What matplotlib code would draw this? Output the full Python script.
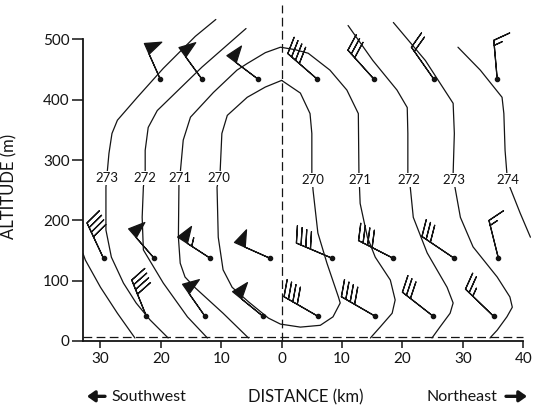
import matplotlib
matplotlib.use('Agg')
import matplotlib.pyplot as plt
import numpy as np

plt.rcParams['font.family'] = ['Lato', 'DejaVu Sans']

# isotherms (K) -- distance in km (southwest negative), altitude in m
iso274_sw = [(-32.9, 145), (-32.5, 134), (-30.0, 89), (-27.2, 46), (-24.3, 5)]
iso273_sw = [(-10.9, 533), (-14.3, 505), (-19.6, 452), (-23.9, 404), (-27.2, 366),
             (-28.1, 344), (-28.6, 311), (-28.9, 278), (-29.1, 255), (-29.1, 184),
             (-28.2, 139), (-26.2, 96), (-24.1, 63), (-21.8, 35), (-18.8, 5)]
iso272_sw = [(-5.9, 518), (-13.2, 454), (-20.6, 382), (-22.1, 354), (-22.6, 316),
             (-22.6, 278), (-22.9, 255), (-23.1, 205), (-22.9, 151), (-19.6, 96),
             (-15.6, 40), (-12.3, 5)]
iso271 = [(-5.5, 5), (-9.7, 46), (-14.3, 88), (-16.0, 106), (-16.8, 129), (-17.1, 172),
          (-17.0, 267), (-16.8, 278), (-16.3, 333), (-15.1, 371), (-11.3, 412),
          (-7.4, 449), (-5.7, 460), (-2.7, 478), (-0.2, 487), (2.2, 483), (4.4, 477),
          (8.0, 449), (10.8, 416), (12.7, 377), (12.8, 278), (13.0, 228), (14.2, 172),
          (15.5, 139), (18.0, 101), (18.8, 68), (18.3, 46), (16.3, 23), (14.7, 5)]
iso270 = [(0.0, 432), (3.1, 411), (4.7, 377), (5.0, 344), (5.0, 278), (5.2, 250),
          (6.0, 179), (7.5, 129), (9.4, 73), (9.7, 63), (8.5, 40), (6.4, 26),
          (3.1, 23), (-0.2, 28), (-2.2, 38), (-5.5, 65), (-8.2, 89), (-9.7, 118),
          (-10.5, 172), (-10.7, 255), (-10.2, 278), (-9.9, 344), (-9.0, 374),
          (-5.7, 404), (-2.7, 421), (0.0, 432)]
iso272_ne = [(11.0, 523), (15.1, 465), (19.1, 416), (20.8, 387), (20.9, 344), (20.9, 278),
             (21.3, 255), (21.8, 205), (24.1, 146), (27.4, 89), (28.4, 63), (27.9, 46),
             (26.2, 23), (24.9, 5)]
iso273_ne = [(18.5, 528), (23.8, 465), (28.4, 394), (28.6, 344), (28.4, 278), (28.7, 255),
             (29.6, 205), (31.7, 156), (35.7, 106), (37.8, 73), (38.2, 56), (37.3, 40),
             (35.7, 18), (34.5, 5)]
iso274_ne = [(29.2, 487), (32.9, 449), (36.5, 404), (36.8, 377), (37.0, 316), (37.3, 278),
             (37.8, 255), (39.5, 212), (41.2, 172)]

# isotherm labels
label_text = ['273', '272', '271', '270', '270', '271', '272', '273', '274']
label_x = [-28.9, -22.7, -16.8, -10.4, 5.1, 12.9, 21.0, 28.5, 37.5]
label_z = [270, 270, 270, 270, 267, 267, 267, 267, 267]

# wind observations: direction (deg, from) and speed (kt)
top_x = [-20.1, -13.2, -3.9, 5.9, 15.3, 25.2, 35.7]
top_dir = [336, 324, 307, 311, 318, 325, 355]
top_spd = [50, 50, 50, 40, 30, 20, 15]
mid_x = [-29.5, -21.1, -11.8, -1.9, 8.4, 18.5, 28.6, 35.9]
mid_dir = [335, 319, 303, 294, 293, 297, 304, 346]
mid_spd = [40, 50, 55, 50, 40, 40, 30, 15]
low_x = [-22.4, -12.7, -3.1, 6.0, 15.5, 25.1, 35.1]
low_dir = [338, 325, 309, 300, 300, 308, 314]
low_spd = [40, 50, 50, 40, 40, 30, 25]
row_z = [434, 137, 41]

ink = '#141414'

fig = plt.figure(figsize=(5.33, 4.09), dpi=100)
ax = fig.add_axes([0.1557, 0.1663, 0.844, 0.8215])
ax.set_xlim(-32.9, 41.6)
ax.set_ylim(0, 557)

for iso in [iso274_sw, iso273_sw, iso272_sw, iso271, iso270, iso272_ne, iso273_ne, iso274_ne]:
    xs, zs = zip(*iso)
    ax.plot(xs, zs, color=ink, lw=0.9, solid_capstyle='round', zorder=2)

for t, x, z in zip(label_text, label_x, label_z):
    ax.text(x, z, t, ha='center', va='center', fontsize=9.5, color=ink, zorder=4,
            bbox=dict(facecolor='white', edgecolor='none', pad=0.6))

# reference lines
ax.axvline(0, color=ink, lw=0.9, ls=(0, (7, 3.5)), zorder=1)
ax.plot([-32.9, 40], [6.6, 6.6], color=ink, lw=0.9, ls=(0, (7, 3.5)), zorder=1)

for xs, dirs, spds, z in zip([top_x, mid_x, low_x], [top_dir, mid_dir, low_dir],
                             [top_spd, mid_spd, low_spd], row_z):
    d = np.radians(dirs)
    s = np.array(spds, dtype=float)
    u = -s * np.sin(d)
    v = -s * np.cos(d)
    zz = np.full(len(xs), z)
    ax.barbs(xs, zz, u, v, length=7.5, lw=0.9, color=ink, zorder=3,
             sizes=dict(spacing=0.13, height=0.42, width=0.3))
    ax.plot(xs, zz, 'o', ms=3, color=ink, zorder=5)

# axes styling
for side in ['top', 'right']:
    ax.spines[side].set_visible(False)
ax.spines['left'].set_bounds(0, 500)
ax.spines['bottom'].set_bounds(-32.9, 40)
for side in ['left', 'bottom']:
    ax.spines[side].set_linewidth(1.3)
    ax.spines[side].set_color(ink)

ax.set_yticks([0, 100, 200, 300, 400, 500])
xt = [-30, -20, -10, 0, 10, 20, 30, 40]
ax.set_xticks(xt)
ax.set_xticklabels([str(abs(t)) for t in xt])
ax.tick_params(axis='y', length=8, width=1.1, labelsize=11, colors=ink, pad=1.5)
ax.tick_params(axis='x', length=5, width=1.1, labelsize=11, colors=ink, pad=3)

ax.set_ylabel('ALTITUDE (m)', fontsize=12, color=ink)
ax.yaxis.set_label_coords(-0.146, 0.461)

# direction captions under the axis
fig.text(0.210, 0.029, 'Southwest', ha='left', va='center', fontsize=11.5, color=ink)
fig.text(0.574, 0.029, 'DISTANCE (km)', ha='center', va='center', fontsize=12, color=ink)
fig.text(0.934, 0.029, 'Northeast', ha='right', va='center', fontsize=11.5, color=ink)
arrow = dict(arrowstyle='-|>,head_width=0.32,head_length=0.45', lw=2.4, color=ink,
             shrinkA=0, shrinkB=0)
ax.annotate('', xy=(87 / 533, 0.031), xytext=(105 / 533, 0.031),
            xycoords='figure fraction', textcoords='figure fraction', arrowprops=arrow)
ax.annotate('', xy=(527 / 533, 0.031), xytext=(506 / 533, 0.031),
            xycoords='figure fraction', textcoords='figure fraction', arrowprops=arrow)

fig.savefig('out.png', dpi=100, facecolor='white')
